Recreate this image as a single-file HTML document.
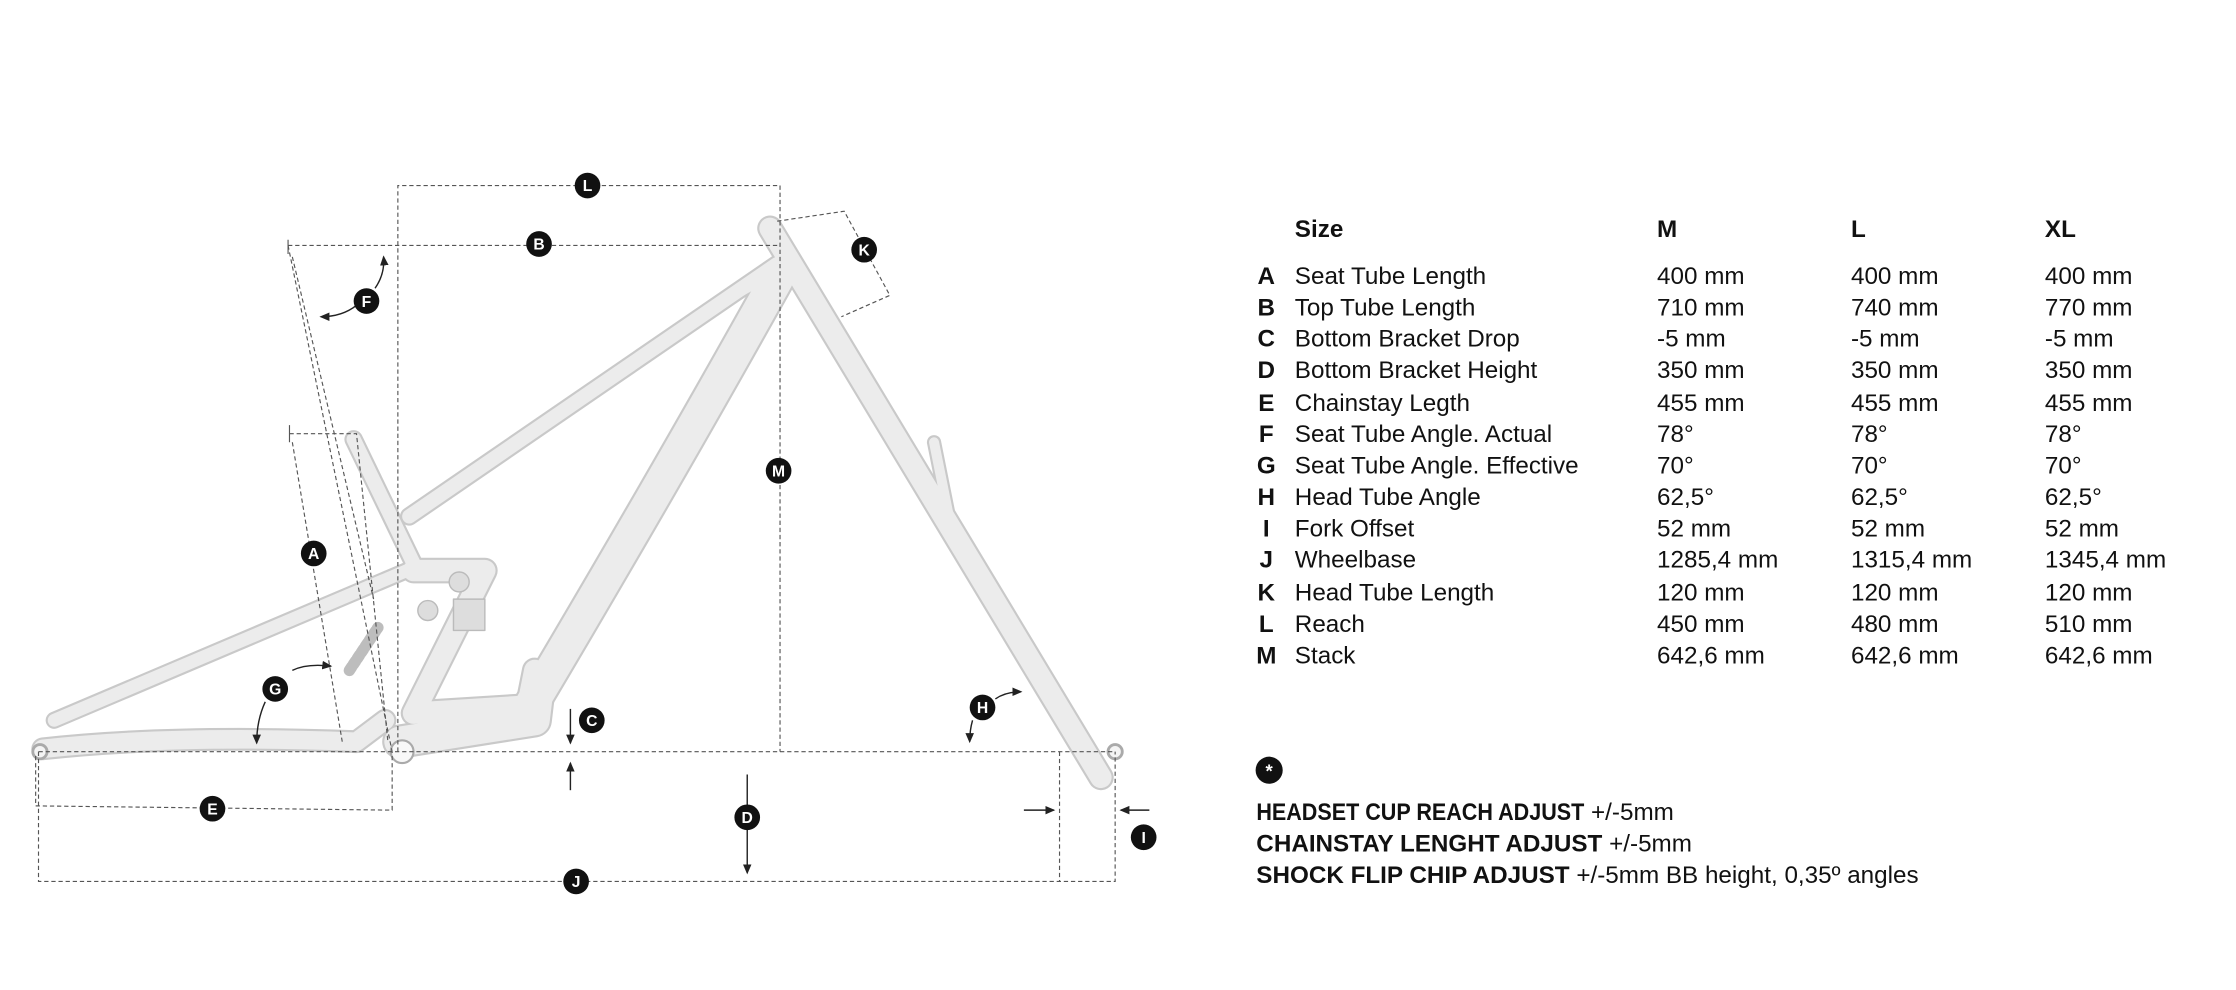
<!DOCTYPE html>
<html><head><meta charset="utf-8"><style>
html,body{margin:0;padding:0;background:#fff;}
svg{display:block}
text{font-family:"Liberation Sans",sans-serif;}
</style></head><body>
<svg width="2236" height="990" viewBox="0 0 1568 694" xmlns="http://www.w3.org/2000/svg">
<defs>
<marker id="ar" markerWidth="8" markerHeight="8" refX="6" refY="4" orient="auto" markerUnits="userSpaceOnUse"><path d="M0,1 L7,4 L0,7 Z" fill="#222"/></marker>
</defs>
<!-- frame: outline then fill -->
<g stroke-linecap="round" stroke-linejoin="round" fill="none">
<g stroke="#c9c9c9">
<path d="M287,362 L545,185" stroke-width="13"/>
<path d="M290,395 L248,308" stroke-width="13"/>
<path d="M372,495 Q470,330 545,195" stroke-width="26"/>
<path d="M540,160 L772,545" stroke-width="18"/>
<path d="M655,310 L668,375" stroke-width="10"/>
<path d="M38,505 L290,398" stroke-width="12"/>
<path d="M30,525 Q120,515 250,520 L270,505" stroke-width="16"/>
<path d="M290,400 L340,400 L290,500 L370,495 L375,470" stroke-width="18"/>
<path d="M280,520 L375,505 L378,480" stroke-width="24"/>
<path d="M500,215 L545,190" stroke-width="10"/>
</g>
<g stroke="#ececec">
<path d="M287,362 L545,185" stroke-width="10"/>
<path d="M290,395 L248,308" stroke-width="10"/>
<path d="M372,495 Q470,330 545,195" stroke-width="23"/>
<path d="M540,160 L772,545" stroke-width="15"/>
<path d="M655,310 L668,375" stroke-width="7"/>
<path d="M38,505 L290,398" stroke-width="9"/>
<path d="M30,525 Q120,515 250,520 L270,505" stroke-width="13"/>
<path d="M290,400 L340,400 L290,500 L370,495 L375,470" stroke-width="15"/>
<path d="M280,520 L375,505 L378,480" stroke-width="21"/>
<path d="M500,215 L545,190" stroke-width="7"/>
</g>
<g stroke="#bdbdbd" stroke-width="3"><path d="M245,470 L265,440" stroke-dasharray="3 2" stroke-width="8"/></g>
<circle cx="28" cy="527" r="5" stroke="#aaa" stroke-width="2" fill="#f4f4f4"/>
<circle cx="282" cy="527" r="8" stroke="#aaa" stroke-width="1.5" fill="#f8f8f8"/>
<circle cx="782" cy="527" r="5" stroke="#aaa" stroke-width="2" fill="#f4f4f4"/>
<circle cx="322" cy="408" r="7" fill="#ddd" stroke="#bbb"/>
<circle cx="300" cy="428" r="7" fill="#ddd" stroke="#bbb"/>
<rect x="318" y="420" width="22" height="22" fill="#ddd" stroke="#bbb"/>
</g>
<!-- dashed dimension lines -->
<g stroke="#555" stroke-width="0.8" stroke-dasharray="3 2" fill="none">
<path d="M279,527 L279,130 L547,130 L547,527"/>
<path d="M202,172 L545,172"/>
<path d="M27,527 L782,527"/>
<path d="M202,172 L275,527"/>
<path d="M205,180 L262,420"/>
<path d="M203,304 L250,304 L272,520"/>
<path d="M205,310 L240,520"/>
<path d="M25,530 L25,565 L275,568 L275,527"/>
<path d="M27,527 L27,618 L782,618 L782,527"/>
<path d="M743,527 L743,618"/>
<path d="M545,155 L592,148 L624,207 L590,222"/>
</g>
<g stroke="#555" stroke-width="0.8" fill="none">
<path d="M202,168 L202,178"/><path d="M203,298 L203,310"/>
</g>
<!-- arrows -->
<g stroke="#222" stroke-width="1" fill="none" marker-end="url(#ar)">
<path d="M263,202 Q270,192 269,180"/>
<path d="M250,214 Q240,222 225,222"/>
<path d="M205,470 Q215,465 232,467"/>
<path d="M186,492 Q180,505 180,521"/>
<path d="M400,497 L400,521"/><path d="M400,554 L400,535"/>
<path d="M524,543 L524,612"/>
<path d="M718,568 L739,568"/><path d="M806,568 L786,568"/>
<path d="M698,490 Q705,485 716,485"/>
<path d="M682,505 Q680,512 680,520"/>
</g>
<!-- label circles -->
<g font-weight="bold" font-size="11" fill="#fff" text-anchor="middle">
<g fill="#111"><circle cx="412" cy="130" r="9"/><circle cx="378" cy="171" r="9"/><circle cx="606" cy="175" r="9"/><circle cx="257" cy="211" r="9"/><circle cx="546" cy="330" r="9"/><circle cx="220" cy="388" r="9"/><circle cx="193" cy="483" r="9"/><circle cx="415" cy="505" r="9"/><circle cx="689" cy="496" r="9"/><circle cx="149" cy="567" r="9"/><circle cx="524" cy="573" r="9"/><circle cx="802" cy="587" r="9"/><circle cx="404" cy="618" r="9"/><circle cx="890" cy="540" r="9.5"/></g>
<text x="412" y="134">L</text><text x="378" y="175">B</text><text x="606" y="179">K</text><text x="257" y="215">F</text><text x="546" y="334">M</text><text x="220" y="392">A</text><text x="193" y="487">G</text><text x="415" y="509">C</text><text x="689" y="500">H</text><text x="149" y="571">E</text><text x="524" y="577">D</text><text x="802" y="591">I</text><text x="404" y="622">J</text><text x="890" y="545" font-size="13">*</text>
</g>
<!-- table -->
<g font-size="17" fill="#111">
<g font-weight="bold"><text x="908" y="166">Size</text><text x="1162" y="166">M</text><text x="1298" y="166">L</text><text x="1434" y="166">XL</text></g>
<g font-weight="bold" text-anchor="middle">
<text x="888" y="199">A</text><text x="888" y="221">B</text><text x="888" y="243">C</text><text x="888" y="265">D</text><text x="888" y="288">E</text><text x="888" y="310">F</text><text x="888" y="332">G</text><text x="888" y="354">H</text><text x="888" y="376">I</text><text x="888" y="398">J</text><text x="888" y="421">K</text><text x="888" y="443">L</text><text x="888" y="465">M</text>
</g>
<g>
<text x="908" y="199">Seat Tube Length</text><text x="1162" y="199">400 mm</text><text x="1298" y="199">400 mm</text><text x="1434" y="199">400 mm</text>
<text x="908" y="221">Top Tube Length</text><text x="1162" y="221">710 mm</text><text x="1298" y="221">740 mm</text><text x="1434" y="221">770 mm</text>
<text x="908" y="243">Bottom Bracket Drop</text><text x="1162" y="243">-5 mm</text><text x="1298" y="243">-5 mm</text><text x="1434" y="243">-5 mm</text>
<text x="908" y="265">Bottom Bracket Height</text><text x="1162" y="265">350 mm</text><text x="1298" y="265">350 mm</text><text x="1434" y="265">350 mm</text>
<text x="908" y="288">Chainstay Legth</text><text x="1162" y="288">455 mm</text><text x="1298" y="288">455 mm</text><text x="1434" y="288">455 mm</text>
<text x="908" y="310">Seat Tube Angle. Actual</text><text x="1162" y="310">78°</text><text x="1298" y="310">78°</text><text x="1434" y="310">78°</text>
<text x="908" y="332">Seat Tube Angle. Effective</text><text x="1162" y="332">70°</text><text x="1298" y="332">70°</text><text x="1434" y="332">70°</text>
<text x="908" y="354">Head Tube Angle</text><text x="1162" y="354">62,5°</text><text x="1298" y="354">62,5°</text><text x="1434" y="354">62,5°</text>
<text x="908" y="376">Fork Offset</text><text x="1162" y="376">52 mm</text><text x="1298" y="376">52 mm</text><text x="1434" y="376">52 mm</text>
<text x="908" y="398">Wheelbase</text><text x="1162" y="398">1285,4 mm</text><text x="1298" y="398">1315,4 mm</text><text x="1434" y="398">1345,4 mm</text>
<text x="908" y="421">Head Tube Length</text><text x="1162" y="421">120 mm</text><text x="1298" y="421">120 mm</text><text x="1434" y="421">120 mm</text>
<text x="908" y="443">Reach</text><text x="1162" y="443">450 mm</text><text x="1298" y="443">480 mm</text><text x="1434" y="443">510 mm</text>
<text x="908" y="465">Stack</text><text x="1162" y="465">642,6 mm</text><text x="1298" y="465">642,6 mm</text><text x="1434" y="465">642,6 mm</text>
</g>
<text x="881" y="575"><tspan font-weight="bold" textLength="230" lengthAdjust="spacingAndGlyphs">HEADSET CUP REACH ADJUST</tspan><tspan>  +/-5mm</tspan></text>
<text x="881" y="597"><tspan font-weight="bold">CHAINSTAY LENGHT ADJUST</tspan><tspan>  +/-5mm</tspan></text>
<text x="881" y="619"><tspan font-weight="bold">SHOCK FLIP CHIP ADJUST</tspan><tspan>  +/-5mm BB height, 0,35º angles</tspan></text>
</g>
</svg>
</body></html>
